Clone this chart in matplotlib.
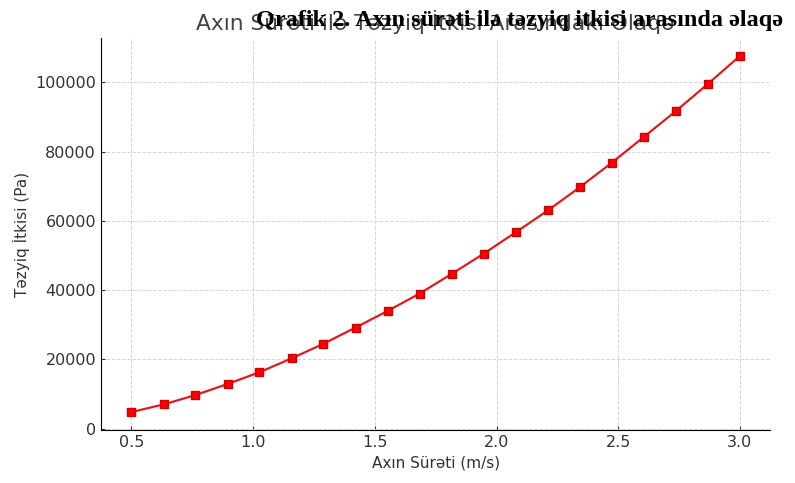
import numpy as np
import matplotlib
matplotlib.use('Agg')
import matplotlib.pyplot as plt

# flow velocity (m/s) and pressure loss (Pa)
velocity = [0.5, 0.632, 0.763, 0.895, 1.026, 1.158, 1.289, 1.421, 1.553, 1.684,
            1.816, 1.947, 2.079, 2.211, 2.342, 2.474, 2.605, 2.737, 2.868, 3.0]
pressure_loss = [4800, 7000, 9700, 12900, 16300, 20300, 24500, 29200, 34000, 39000,
                 44700, 50500, 56700, 63000, 69700, 76800, 84200, 91700, 99500, 107600]

title = 'Axın Sürəti ilə Təzyiq İtkisi Arasındakı Əlaqə'
caption = 'Qrafik 2. Axın sürəti ilə təzyiq itkisi arasında əlaqə'
xlabel = 'Axın Sürəti (m/s)'
ylabel = 'Təzyiq İtkisi (Pa)'

fig = plt.figure(figsize=(7.95, 4.83), dpi=100)
ax = fig.add_axes([0.127, 0.110, 0.842, 0.811])

ax.plot(velocity, pressure_loss, '-s', color='#e31a1c', markerfacecolor='red',
        markeredgecolor='#d00000', markersize=6, linewidth=1.6)

ax.set_xlabel(xlabel, fontsize=11, color='#333333')
ax.set_ylabel(ylabel, fontsize=11, color='#333333')
ax.set_title(title, fontsize=15.7, color='#444444', pad=6)

ax.grid(True, linestyle='--', color='#d5d5d5', linewidth=0.7)
ax.spines['top'].set_visible(False)
ax.spines['right'].set_visible(False)
ax.tick_params(direction='in', length=3, labelsize=11.5, colors='#333333')
ax.set_xticks([0.5, 1.0, 1.5, 2.0, 2.5, 3.0])
ax.set_yticks([0, 20000, 40000, 60000, 80000, 100000])

fig.text(0.985, 0.957, caption, ha='right', va='center', fontsize=17.5,
         fontweight='bold', family='Liberation Serif', color='black')

fig.savefig('out.png', dpi=100)
